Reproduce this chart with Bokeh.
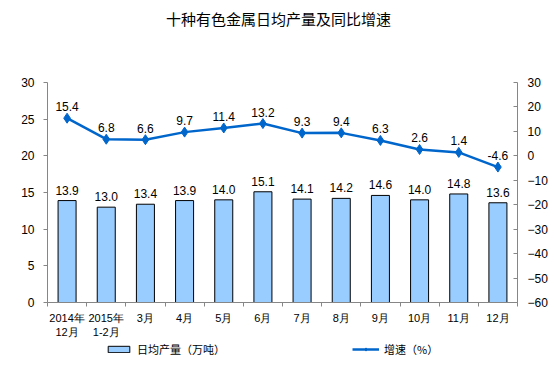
from bokeh.plotting import figure
from bokeh.layouts import column
from bokeh.models import (Range1d, LinearAxis, FixedTicker, Legend, LegendItem,
                          ColumnDataSource, Label)
from bokeh.core.properties import value
from bokeh.embed import file_html
from bokeh.resources import INLINE

title_text = "十种有色金属日均产量及同比增速"
categories = ["2014年\n12月", "2015年\n1-2月", "3月", "4月", "5月", "6月",
              "7月", "8月", "9月", "10月", "11月", "12月"]
output = [13.9, 13.0, 13.4, 13.9, 14.0, 15.1, 14.1, 14.2, 14.6, 14.0, 14.8, 13.6]
growth = [15.4, 6.8, 6.6, 9.7, 11.4, 13.2, 9.3, 9.4, 6.3, 2.6, 1.4, -4.6]
left_ticks = [0, 5, 10, 15, 20, 25, 30]
right_ticks = [-60, -50, -40, -30, -20, -10, 0, 10, 20, 30]
legend_labels = ["日均产量（万吨）", "增速（%）"]

idx = list(range(len(categories)))
src = ColumnDataSource(dict(
    x=idx, out=output, gr=growth,
    out_lbl=[f"{v:.1f}" for v in output],
    gr_lbl=[f"{v:.1f}" for v in growth],
))

FONT = "Liberation Sans"
CJK = "Noto Sans CJK SC"
AX = "#868686"
BAR_FILL = "#99CCFF"
LINE_COL = "#0066CC"


def blank_fig(h):
    # ranges far away from the data so that legend proxies draw nothing
    f = figure(width=546, height=h, output_backend="svg", toolbar_location=None,
               x_range=Range1d(100, 101), y_range=Range1d(100, 101), min_border=0,
               x_axis_location=None, y_axis_location=None, title=None)
    f.outline_line_color = None
    f.xgrid.visible = False
    f.ygrid.visible = False
    return f


# ---- title strip (frame is aligned with the main chart's frame) ----
top = blank_fig(35)
top.add_layout(Label(x=231, y=17, x_units="screen", y_units="screen",
                     text=title_text, text_align="center",
                     text_baseline="middle", text_font=CJK,
                     text_font_size="15px", text_color="#000000"))

# ---- main chart ----
p = figure(frame_width=470, frame_height=220, output_backend="svg",
           toolbar_location=None,
           x_range=Range1d(-0.5, len(categories) - 0.5), y_range=Range1d(0, 30),
           min_border_left=47, min_border_right=29, min_border_top=47,
           min_border_bottom=34, x_axis_location=None, y_axis_location=None,
           title=None)
p.outline_line_color = None
p.xgrid.visible = False
p.ygrid.visible = False
p.extra_y_ranges = {"rate": Range1d(-60, 30)}

xax = LinearAxis(ticker=FixedTicker(ticks=idx,
                                    minor_ticks=[i - 0.5 for i in range(len(categories) + 1)]))
xax.major_label_overrides = {i: c for i, c in enumerate(categories)}
xax.axis_line_color = AX
xax.major_tick_out = 0
xax.major_tick_in = 0
xax.minor_tick_out = 4
xax.minor_tick_in = 0
xax.minor_tick_line_color = AX
xax.major_label_text_font = FONT
xax.major_label_text_font_size = "11px"
xax.major_label_text_color = "#000000"
xax.major_label_standoff = 5
p.add_layout(xax, "below")

yax = LinearAxis(ticker=FixedTicker(ticks=left_ticks))
yax.axis_line_color = AX
yax.major_tick_line_color = AX
yax.major_tick_out = 4
yax.major_tick_in = 0
yax.minor_tick_line_color = None
yax.major_label_text_font = FONT
yax.major_label_text_font_size = "12px"
yax.major_label_text_color = "#000000"
yax.major_label_standoff = 9
p.add_layout(yax, "left")

rax = LinearAxis(y_range_name="rate", ticker=FixedTicker(ticks=right_ticks))
rax.axis_line_color = AX
rax.major_tick_line_color = AX
rax.major_tick_out = 0
rax.major_tick_in = 4
rax.minor_tick_line_color = None
rax.major_label_text_font = FONT
rax.major_label_text_font_size = "12px"
rax.major_label_text_color = "#000000"
rax.major_label_standoff = 10
p.add_layout(rax, "right")

p.vbar(x="x", top="out", bottom=0, width=0.46, source=src,
       fill_color=BAR_FILL, line_color="#000000", line_width=1)
p.line(x="x", y="gr", source=src, y_range_name="rate",
       line_color=LINE_COL, line_width=2.5)
p.scatter(x="x", y="gr", source=src, y_range_name="rate", marker="diamond",
          size=10, fill_color=LINE_COL, line_color=LINE_COL)

p.text(x="x", y="out", text="out_lbl", source=src, text_align="center",
       text_baseline="bottom", y_offset=-6, text_font=value(FONT),
       text_font_size="12px", text_color="#000000")
p.text(x="x", y="gr", text="gr_lbl", source=src, y_range_name="rate",
       text_align="center", text_baseline="bottom", y_offset=-7,
       text_font=value(FONT), text_font_size="12px", text_color="#000000")

# ---- legend strip ----
leg = blank_fig(37)
lb = leg.vbar(x="x", top="out", bottom=0, width=0.46, source=src,
              fill_color=BAR_FILL, line_color="#000000", line_width=1)
ll = leg.line(x="x", y="gr", source=src, line_color=LINE_COL, line_width=2.5)
lm = leg.scatter(x="x", y="gr", source=src, marker="diamond", size=9,
                 fill_color=LINE_COL, line_color=LINE_COL)
legend = Legend(items=[LegendItem(label=legend_labels[0], renderers=[lb]),
                       LegendItem(label=legend_labels[1], renderers=[ll, lm])],
                orientation="horizontal", location=(58, 20),
                glyph_width=27, glyph_height=8, spacing=127, padding=0,
                margin=0, label_standoff=5, label_height=13,
                border_line_color=None,
                background_fill_alpha=0, label_text_font=CJK,
                label_text_font_size="11px", label_text_color="#000000")
leg.add_layout(legend, "center")

layout = column(top, p, leg, spacing=0)
open("out.html", "w").write(file_html(layout, INLINE))
